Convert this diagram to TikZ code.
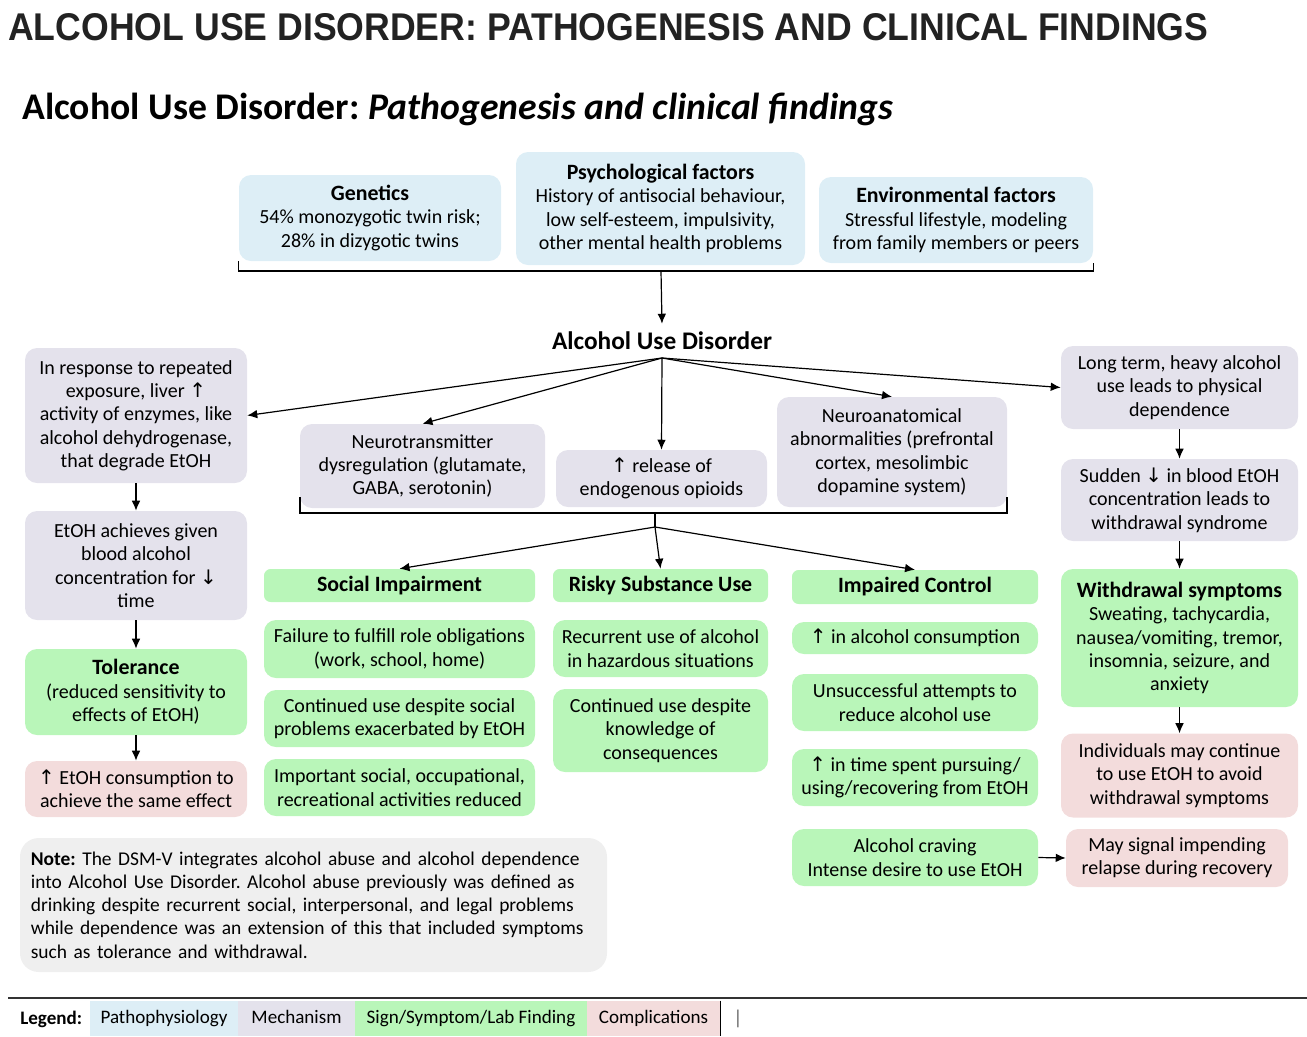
\documentclass[tikz,border=0pt]{standalone}
\usepackage{fontspec}
\setmainfont{Carlito}
\newfontfamily\titlefont{Liberation Sans}
\newfontfamily\symfont{DejaVu Sans}
\usepackage[usenames,dvipsnames]{xcolor}
\usepackage{tikz}
\usetikzlibrary{arrows.meta}
\frenchspacing

\definecolor{pathofill}{HTML}{DDEEF6}
\definecolor{mechfill}{HTML}{E4E2EC}
\definecolor{signfill}{HTML}{B9F6B9}
\definecolor{complfill}{HTML}{F3DCDC}
\definecolor{notefill}{HTML}{EFEFEF}
\definecolor{inkgray}{HTML}{222222}

\newcommand{\upar}{{\symfont\char"2191}}
\newcommand{\dnar}{{\symfont\char"2193}}
\newcommand{\bodyfont}{\fontsize{15}{17.5}\selectfont}
\newcommand{\headfont}{\fontsize{16.4}{18.5}\selectfont\bfseries}

\begin{document}
\begin{tikzpicture}[x=0.75pt, y=-0.75pt,
    box/.style={rounded corners=9pt, align=center, inner sep=2pt, font=\bodyfont},
    patho/.style={box, fill=pathofill},
    mech/.style={box, fill=mechfill},
    sign/.style={box, fill=signfill},
    compl/.style={box, fill=complfill},
    wh/.style 2 args={minimum width=#1*0.75pt, minimum height=#2*0.75pt},
    legcell/.style={inner sep=0pt, font=\fontsize{14.3}{17}\selectfont, text height=10pt, text depth=3pt, minimum height=35*0.75pt},
    arr/.style={-{Latex[length=7.5pt, width=6.5pt]}, line width=0.9pt},
    brace/.style={line width=0.9pt}]
    \useasboundingbox (0,0) rectangle (1307,1036);

    \node [anchor=base west, inner sep=0pt, text=inkgray] (title) at (8,40)
      {\resizebox{900pt}{20.25pt}{\titlefont\bfseries ALCOHOL USE DISORDER: PATHOGENESIS AND CLINICAL FINDINGS}};
    \node [anchor=base west, inner sep=0pt] (subtitle) at (22,119)
      {\resizebox{653pt}{!}{\bfseries Alcohol Use Disorder: \itshape Pathogenesis and clinical findings}};

    \node [patho, wh={262}{86}] (gen) at (370,218)
      {{\headfont Genetics}\\54\% monozygotic twin risk;\\28\% in dizygotic twins};
    \node [patho, wh={289}{113}] (psy) at (660.5,208.5)
      {{\headfont Psychological factors}\\History of antisocial behaviour,\\low self-esteem, impulsivity,\\other mental health problems};
    \node [patho, wh={274}{86}] (env) at (956,220)
      {{\headfont Environmental factors}\\Stressful lifestyle, modeling\\from family members or peers};

    \coordinate (topbr) at (661,271);
    \draw [brace] (gen.south west) |- (topbr) -| (env.south east);

    \node [inner sep=6pt, font=\fontsize{19}{22}\selectfont\bfseries] (aud) at (662,341) {Alcohol Use Disorder};
    \draw [arr] (topbr) -- (aud.north);
    \coordinate (hub) at (662,358);

    \node [mech, wh={222}{135}] (liver) at (136,415.5)
      {In response to repeated\\exposure, liver \upar\\activity of enzymes, like\\alcohol dehydrogenase,\\that degrade EtOH};
    \node [mech, wh={245}{84}] (neuro) at (422.5,466)
      {Neurotransmitter\\dysregulation (glutamate,\\GABA, serotonin)};
    \node [mech, wh={211}{57}] (opioid) at (661.5,478.5)
      {\upar{} release of\\endogenous opioids};
    \node [mech, wh={230}{110}] (anat) at (892,452)
      {Neuroanatomical\\abnormalities (prefrontal\\cortex, mesolimbic\\dopamine system)};
    \node [mech, wh={237}{83}] (longterm) at (1179.5,387.5)
      {Long term, heavy alcohol\\use leads to physical\\dependence};

    \draw [arr] (hub) -- (liver.east);
    \draw [arr] (hub) -- (neuro.north);
    \draw [arr] (hub) -- (opioid.north);
    \draw [arr] (hub) -- (anat.north);
    \draw [arr] (hub) -- (longterm.west);

    \node [mech, wh={222}{109}] (blood) at (136,565.5)
      {EtOH achieves given\\blood alcohol\\concentration for \dnar\\time};
    \node [sign, wh={222}{86}] (toler) at (136,692)
      {{\headfont Tolerance}\\(reduced sensitivity to\\effects of EtOH)};
    \node [compl, wh={222}{56}] (moreetoh) at (136,789)
      {\upar{} EtOH consumption to\\achieve the same effect};
    \draw [arr] (liver) -- (blood);
    \draw [arr] (blood) -- (toler);
    \draw [arr] (toler) -- (moreetoh);

    \node [mech, wh={237}{82}] (sudden) at (1179.5,500)
      {Sudden \dnar{} in blood EtOH\\concentration leads to\\withdrawal syndrome};
    \node [sign, wh={237}{138}] (withdraw) at (1179.5,638)
      {{\headfont Withdrawal symptoms}\\Sweating, tachycardia,\\nausea/vomiting, tremor,\\insomnia, seizure, and\\anxiety};
    \node [compl, wh={237}{84}] (contin) at (1179.5,775.5)
      {Individuals may continue\\to use EtOH to avoid\\withdrawal symptoms};
    \node [compl, wh={222}{58}] (relapse) at (1177,858)
      {May signal impending\\relapse during recovery};
    \draw [arr] (longterm) -- (sudden);
    \draw [arr] (sudden) -- (withdraw);
    \draw [arr] (withdraw) -- (contin);

    \coordinate (brl) at (300,497);
    \coordinate (brr) at (1007,497);
    \coordinate (midbr) at (655,513);
    \coordinate (fan) at (655,527);
    \draw [brace] (brl) |- (midbr) -| (brr);
    \draw [brace] (midbr) -- (fan);

    \node [sign, rounded corners=5pt, wh={271}{33}, font=\headfont] (social) at (399.5,585.5) {Social Impairment};
    \node [sign, wh={271}{58}] (fail) at (399.5,649)
      {Failure to fulfill role obligations\\(work, school, home)};
    \node [sign, wh={271}{57}] (despite) at (399.5,718.5)
      {Continued use despite social\\problems exacerbated by EtOH};
    \node [sign, wh={271}{57}] (activ) at (399.5,787.5)
      {Important social, occupational,\\recreational activities reduced};

    \node [sign, rounded corners=5pt, wh={215}{33}, font=\headfont] (risky) at (660.5,585.5) {Risky Substance Use};
    \node [sign, wh={215}{57}] (recur) at (660.5,648.5)
      {Recurrent use of alcohol\\in hazardous situations};
    \node [sign, wh={215}{83}] (knowl) at (660.5,730.5)
      {Continued use despite\\knowledge of\\consequences};

    \node [sign, rounded corners=5pt, wh={246}{34}, font=\headfont] (impair) at (915,587) {Impaired Control};
    \node [sign, wh={246}{32}] (consum) at (915,638)
      {\upar{} in alcohol consumption};
    \node [sign, wh={246}{57}] (unsucc) at (915,702.5)
      {Unsuccessful attempts to\\reduce alcohol use};
    \node [sign, wh={246}{57}] (timesp) at (915,777.5)
      {\upar{} in time spent pursuing/\\using/recovering from EtOH};
    \node [sign, wh={246}{57}] (craving) at (915,857.5)
      {Alcohol craving\\Intense desire to use EtOH};

    \draw [arr] (fan) -- (social.north);
    \draw [arr] (fan) -- (risky.north);
    \draw [arr] (fan) -- (impair.north);
    \draw [arr] (craving.east) -- (relapse.west);

    \node [box, fill=notefill, rounded corners=14pt, wh={587}{134}, text width=424pt, align=left,
           font=\fontsize{14.6}{17.4}\selectfont] (note) at (313.5,905)
      {\textbf{Note:} The DSM-V integrates alcohol abuse and alcohol dependence\\
       into Alcohol Use Disorder. Alcohol abuse previously was defined as\\
       drinking despite recurrent social, interpersonal, and legal problems\\
       while dependence was an extension of this that included symptoms\\
       such as tolerance and withdrawal.};

    \draw [line width=1.5pt, black!80] (8,997.5) -- (1307,997.5);
    \node [font=\fontsize{14.3}{17}\selectfont\bfseries, anchor=west, inner sep=0pt] (legend) at (20,1019) {Legend:};
    \node [legcell, fill=pathofill, minimum width=148*0.75pt] (lpatho) at (164,1018.5) {Pathophysiology};
    \node [legcell, fill=mechfill, minimum width=117*0.75pt] (lmech) at (296.5,1018.5) {Mechanism};
    \node [legcell, fill=signfill, minimum width=232*0.75pt] (lsign) at (471,1018.5) {Sign/Symptom/Lab Finding};
    \node [legcell, fill=complfill, minimum width=133*0.75pt] (lcompl) at (653.5,1018.5) {Complications};
    \draw [line width=0.6pt] (lcompl.north east) -- (lcompl.south east);
    \node [font=\bodyfont, text=black!60, inner sep=0pt] (cursor) at (738,1019) {|};
\end{tikzpicture}
\end{document}
